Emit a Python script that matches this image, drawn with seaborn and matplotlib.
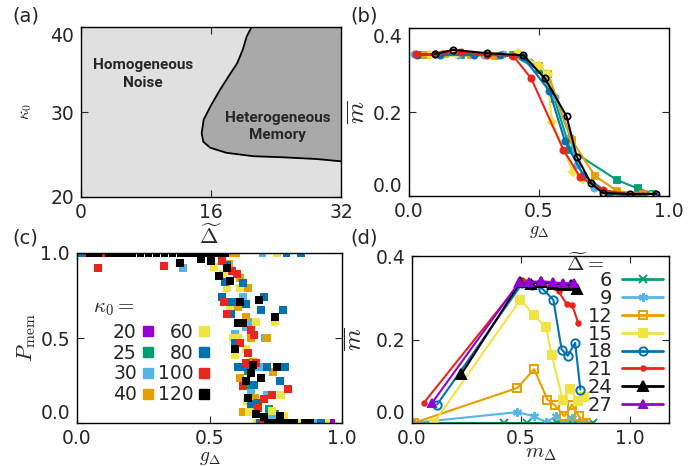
import seaborn as sns
import matplotlib.pyplot as plt
import pandas as pd
from matplotlib.lines import Line2D

# ---------------- datos ----------------
kappas = ['20', '25', '30', '40', '60', '80', '100', '120']
colores_k = ['#9400D3', '#009E73', '#56B4E9', '#E69F00', '#F0E442', '#0072B2', '#E8251F', '#000000']

deltas = ['6', '9', '12', '15', '18', '21', '24', '27']
colores_d = ['#009E73', '#56B4E9', '#E69F00', '#F0E442', '#0072B2', '#E8251F', '#000000', '#9400D3']

# (a) frontera de fase
frontera_delta = [21.0, 20.4, 19.9, 19.2, 18.3, 17.1, 15.9, 15.1, 14.85, 15.05, 15.9, 17.9, 21.2, 24.9, 29.0, 32.0]
frontera_kappa = [40.0, 38.9, 37.3, 35.7, 34.4, 32.6, 30.6, 29.1, 27.5, 26.5, 25.8, 25.2, 24.8, 24.67, 24.47, 24.2]

# (b) m vs g por kappa0
gb20 = [0.95]
mb20 = [0.0]
gb25 = [0.05, 0.2, 0.4, 0.5, 0.56, 0.62, 0.80, 0.88, 0.94]
mb25 = [0.335, 0.335, 0.335, 0.30, 0.23, 0.11, 0.038, 0.018, 0.005]
gb30 = [0.02, 0.1, 0.19, 0.29, 0.36, 0.41, 0.465, 0.53, 0.562, 0.619, 0.645, 0.71, 0.78, 0.86, 0.93]
mb30 = [0.337, 0.337, 0.336, 0.336, 0.337, 0.338, 0.32, 0.275, 0.236, 0.141, 0.074, 0.02, 0.0, 0.0, 0.0]
gb40 = [0.06, 0.14, 0.24, 0.33, 0.42, 0.5, 0.535, 0.626, 0.715, 0.80, 0.9]
mb40 = [0.336, 0.337, 0.335, 0.334, 0.336, 0.31, 0.29, 0.133, 0.048, 0.012, 0.005]
gb60 = [0.08, 0.18, 0.3, 0.42, 0.5, 0.533, 0.549, 0.63, 0.67, 0.8, 0.93]
mb60 = [0.336, 0.338, 0.336, 0.34, 0.31, 0.29, 0.177, 0.058, 0.04, 0.0, 0.0]
gb80 = [0.03, 0.12, 0.25, 0.35, 0.44, 0.54, 0.6, 0.67, 0.77, 0.88]
mb80 = [0.336, 0.336, 0.336, 0.336, 0.33, 0.25, 0.13, 0.05, 0.005, 0.0]
gb100 = [0.026, 0.1, 0.2, 0.3, 0.4, 0.47, 0.594, 0.658, 0.746, 0.9]
mb100 = [0.338, 0.338, 0.342, 0.336, 0.334, 0.28, 0.11, 0.045, 0.014, 0.0]
gb120 = [0.1, 0.17, 0.3, 0.44, 0.523, 0.606, 0.645, 0.7, 0.746, 0.85, 0.95]
mb120 = [0.338, 0.348, 0.34, 0.335, 0.28, 0.19, 0.094, 0.03, 0.007, 0.005, 0.005]

# (c) P_mem vs g por kappa0
gc20 = [0.85, 0.88, 0.91, 0.93, 0.96]
pc20 = [0.0, 0.0, 0.0, 0.0, 0.0]
gc25 = [0.645, 0.657, 0.725, 0.747, 0.83, 0.87, 0.90]
pc25 = [0.306, 0.2, 0.082, 0.053, 0.0, 0.0, 0.0]
gc30 = [0.02, 0.40, 0.626, 0.638, 0.645, 0.596, 0.709, 0.687, 0.657, 0.717, 0.664, 0.736, 0.70, 0.74, 0.90]
pc30 = [1.0, 0.91, 0.741, 0.565, 0.594, 0.524, 0.5, 0.329, 0.176, 0.165, 0.088, 0.035, 1.0, 0.0, 0.0]
gc40 = [0.0, 0.57, 0.60, 0.574, 0.615, 0.645, 0.608, 0.638, 0.657, 0.717, 0.664, 0.74, 0.615, 0.672, 0.626, 0.70, 0.78]
pc40 = [1.0, 1.0, 1.0, 0.935, 0.853, 0.794, 0.682, 0.624, 0.5, 0.5, 0.359, 0.3, 0.265, 0.147, 0.065, 0.0, 0.0]
gc60 = [0.01, 0.755, 0.517, 0.551, 0.566, 0.615, 0.577, 0.675, 0.747, 0.589, 0.608, 0.638, 0.596,
        0.649, 0.736, 0.781, 0.642, 0.77, 0.68, 0.84, 0.94]
pc60 = [1.0, 1.0, 0.918, 0.876, 0.794, 0.794, 0.665, 0.594, 0.594, 0.5, 0.5, 0.435, 0.4,
        0.065, 0.071, 0.041, 0.129, 0.165, 0.0, 0.0, 0.0]
gc80 = [0.02, 0.79, 0.845, 0.566, 0.558, 0.626, 0.547, 0.585, 0.638, 0.706, 0.694, 0.777, 0.581,
        0.596, 0.608, 0.63, 0.717, 0.785, 0.766, 0.668, 0.657, 0.683, 0.69, 0.73, 0.92]
pc80 = [1.0, 1.0, 1.0, 0.93, 0.829, 0.824, 0.741, 0.712, 0.7, 0.741, 0.665, 0.665, 0.641,
        0.471, 0.329, 0.329, 0.329, 0.329, 0.247, 0.224, 0.112, 0.118, 0.0, 0.0, 0.0]
gc100 = [0.04, 0.11, 0.079, 0.328, 0.547, 0.585, 0.604, 0.555, 0.566, 0.657, 0.668, 0.615, 0.645,
         0.638, 0.675, 0.626, 0.796, 0.736, 0.706, 0.683, 0.70, 0.76, 0.80]
pc100 = [1.0, 1.0, 0.91, 0.924, 0.953, 0.894, 0.876, 0.712, 0.641, 0.547, 0.518, 0.471, 0.412,
         0.353, 0.353, 0.218, 0.2, 0.165, 0.141, 0.088, 0.0, 0.0, 0.0]
gc120 = [0.05, 0.08, 0.12, 0.15, 0.18, 0.21, 0.24, 0.27, 0.30, 0.33, 0.36, 0.39, 0.42, 0.45, 0.48,
         0.51, 0.54, 0.56,
         0.388, 0.468, 0.506, 0.536, 0.566, 0.577, 0.615, 0.687, 0.747, 0.608, 0.626, 0.596, 0.664,
         0.657, 0.694, 0.755, 0.638, 0.645, 0.675, 0.706, 0.766,
         0.72, 0.74, 0.76, 0.78, 0.80, 0.82, 0.86, 0.88]
pc120 = [1.0, 1.0, 1.0, 1.0, 1.0, 1.0, 1.0, 1.0, 1.0, 1.0, 1.0, 1.0, 1.0, 1.0, 1.0,
         1.0, 1.0, 1.0,
         0.941, 0.965, 0.953, 0.865, 0.912, 0.835, 0.712, 0.724, 0.624, 0.588, 0.588, 0.435, 0.341,
         0.294, 0.265, 0.329, 0.247, 0.147, 0.053, 0.035, 0.041,
         0.0, 0.0, 0.0, 0.0, 0.0, 0.0, 0.0, 0.0]

# (d) m vs m_Delta por Delta
md6 = [0.0, 0.423, 0.53, 0.665, 0.72, 0.757, 0.83]
mb6 = [0.0, 0.0, 0.0, 0.0, 0.0, 0.0, 0.0]
md9 = [0.0, 0.484, 0.561, 0.615, 0.661, 0.70, 0.735, 0.766, 0.80]
mb9 = [0.0, 0.026, 0.016, 0.002, 0.016, 0.0, 0.012, 0.002, 0.0]
md12 = [0.007, 0.484, 0.561, 0.622, 0.657, 0.70, 0.735, 0.766, 0.80]
mb12 = [0.0, 0.084, 0.129, 0.056, 0.042, 0.016, 0.044, 0.016, 0.0]
md15 = [0.10, 0.497, 0.561, 0.615, 0.641, 0.692, 0.726, 0.761, 0.789]
mb15 = [0.0, 0.295, 0.259, 0.229, 0.164, 0.056, 0.082, 0.053, 0.062]
md18 = [0.115, 0.507, 0.553, 0.60, 0.649, 0.687, 0.715, 0.749, 0.773]
mb18 = [0.044, 0.335, 0.33, 0.321, 0.295, 0.176, 0.161, 0.192, 0.08]
md21 = [0.054, 0.507, 0.60, 0.673, 0.71, 0.735, 0.763]
mb21 = [0.048, 0.343, 0.334, 0.315, 0.285, 0.283, 0.24]
md24 = [0.227, 0.497, 0.546, 0.592, 0.646, 0.692, 0.73, 0.758]
mb24 = [0.117, 0.337, 0.334, 0.337, 0.333, 0.331, 0.33, 0.32]
md27 = [0.092, 0.492, 0.538, 0.592, 0.646, 0.692, 0.746]
mb27 = [0.048, 0.337, 0.337, 0.34, 0.337, 0.335, 0.335]

# ---------------- estilo ----------------
sns.set_style('ticks')
plt.rcParams.update({
    'xtick.direction': 'in', 'ytick.direction': 'in',
    'xtick.top': True, 'ytick.right': True,
    'xtick.major.size': 5, 'ytick.major.size': 5,
    'xtick.major.pad': 4, 'ytick.major.pad': 5,
    'xtick.labelsize': 13.5, 'ytick.labelsize': 13.5,
    'axes.edgecolor': 'black', 'axes.linewidth': 1.0,
    'mathtext.fontset': 'cm',
})
plt.rcParams['font.family'] = ['DejaVu Sans']

fig = plt.figure(figsize=(7, 4.66), dpi=100)
W, H = 700, 466


def caja(x0, y0, x1, y1):
    return [x0 / W, 1 - y1 / H, (x1 - x0) / W, (y1 - y0) / H]


ax_a = fig.add_axes(caja(81, 27, 341, 197))
ax_b = fig.add_axes(caja(409, 28, 669, 196))
ax_c = fig.add_axes(caja(77, 253, 342, 423))
ax_d = fig.add_axes(caja(412, 256, 669, 423))

# ---------------- (a) ----------------
ax_a.set_facecolor('#E0E0E0')
ax_a.fill_betweenx(frontera_kappa, frontera_delta, 32, color='#A9A9A9', lw=0)
sns.lineplot(x=frontera_delta, y=frontera_kappa, ax=ax_a, color='black', lw=1.3,
             sort=False, estimator=None)
ax_a.set_xlim(0, 32)
ax_a.set_ylim(20, 40)
ax_a.set_xticks([0, 16, 32])
ax_a.set_yticks([20, 30, 40])
ax_a.text(7.6, 34.5, 'Homogeneous\nNoise', ha='center', va='center',
          family='Roboto', weight='bold', fontsize=11, linespacing=1.35)
ax_a.text(24.2, 28.3, 'Heterogeneous\nMemory', ha='center', va='center',
          family='Roboto', weight='bold', fontsize=11, linespacing=1.35)
ax_a.set_xlabel(r'$\widetilde{\Delta}$', fontsize=16, labelpad=1)
ax_a.set_ylabel(r'$\kappa_0$', fontsize=12, labelpad=12)
ax_a.get_yticklabels()[-1].set_va('top')

# ---------------- (b) ----------------
series_b = [(gb20, mb20, 'P'), (gb25, mb25, 's'), (gb30, mb30, 'o'), (gb40, mb40, 's'),
            (gb60, mb60, 'D'), (gb80, mb80, 'o'), (gb100, mb100, 'o'), (gb120, mb120, 'o')]
for (gx, my, mk), col in zip(series_b, colores_k):
    abierto = col == '#000000'
    sns.lineplot(x=gx, y=my, ax=ax_b, color=col, lw=1.5, marker=mk, markersize=4.5,
                 markeredgecolor=col, markeredgewidth=1.3,
                 markerfacecolor='none' if abierto else col,
                 sort=False, estimator=None)
ax_b.set_xlim(0, 1)
ax_b.set_ylim(0, 0.4)
ax_b.set_xticks([0, 0.5, 1.0])
ax_b.set_yticks([0, 0.2, 0.4])
ax_b.set_xlabel(r'$g_\Delta$', fontsize=13, labelpad=1)
ax_b.set_ylabel(r'$\overline{m}$', fontsize=18, labelpad=2)
ax_b.get_yticklabels()[0].set_va('bottom')
ax_b.get_yticklabels()[-1].set_va('top')

# ---------------- (c) ----------------
gs = [gc20, gc25, gc30, gc40, gc60, gc80, gc100, gc120]
ps = [pc20, pc25, pc30, pc40, pc60, pc80, pc100, pc120]
filas = []
for k, gx, py in zip(kappas, gs, ps):
    for a, b in zip(gx, py):
        filas.append({'g': a, 'P': b, 'kappa': k})
df_c = pd.DataFrame(filas)
sns.scatterplot(data=df_c, x='g', y='P', hue='kappa', palette=dict(zip(kappas, colores_k)),
                marker='s', s=30, linewidth=0, ax=ax_c, legend=False)
ax_c.set_xlim(0, 1)
ax_c.set_ylim(0, 1)
ax_c.set_xticks([0, 0.5, 1.0])
ax_c.set_yticks([0, 0.5, 1.0])
ax_c.set_xlabel(r'$g_\Delta$', fontsize=14, labelpad=0)
ax_c.set_ylabel(r'$P_{\rm mem}$', fontsize=16, labelpad=2)
ax_c.get_yticklabels()[0].set_va('bottom')

h_c = [Line2D([], [], ls='', marker='s', markersize=6.5, color=c) for c in colores_k]
ax_c.legend(h_c, kappas, ncol=2, markerfirst=False, frameon=False, fontsize=13.5,
            handlelength=0.8, handletextpad=0.2, columnspacing=0.1, labelspacing=0.09,
            borderpad=0, borderaxespad=0, loc='upper left',
            bbox_to_anchor=(113 / W, 1 - 323 / H), bbox_transform=fig.transFigure)
fig.text(93 / W, 1 - 308 / H, r'$\kappa_0=$', fontsize=15, va='center')

# ---------------- (d) ----------------
estilos_d = [('x', 'full'), ((6, 2, 0), 'full'), ('s', 'none'), ('s', 'full'),
             ('o', 'none'), ('.', 'full'), ('^', 'full'), ('^', 'full')]
mds = [md6, md9, md12, md15, md18, md21, md24, md27]
mbs = [mb6, mb9, mb12, mb15, mb18, mb21, mb24, mb27]
tamanos = [5.5, 6.5, 6, 5.5, 6, 6.5, 6.5, 5.5]
for mx, my, (mk, relleno), col, ms in zip(mds, mbs, estilos_d, colores_d, tamanos):
    sns.lineplot(x=mx, y=my, ax=ax_d, color=col, lw=1.5, marker=mk, markersize=ms,
                 markeredgecolor=col, markeredgewidth=1.4,
                 markerfacecolor='none' if relleno == 'none' else col,
                 sort=False, estimator=None)
ax_d.set_xlim(0, 1.18)
ax_d.set_ylim(0, 0.4)
ax_d.set_xticks([0, 0.5, 1.0])
ax_d.set_yticks([0, 0.2, 0.4])
ax_d.set_xlabel(r'$m_\Delta$', fontsize=15, labelpad=-3)
ax_d.set_ylabel(r'$\overline{m}$', fontsize=18, labelpad=6)
ax_d.get_yticklabels()[0].set_va('bottom')

h_d = [Line2D([], [], color=col, lw=2, marker=mk, markersize=ms, markeredgecolor=col,
              markeredgewidth=1.4, markerfacecolor='none' if relleno == 'none' else col)
       for (mk, relleno), col, ms in zip(estilos_d, colores_d, tamanos)]
ax_d.legend(h_d, deltas, markerfirst=False, frameon=False, fontsize=14,
            handlelength=2.1, handletextpad=0.5, labelspacing=-0.06,
            borderpad=0, borderaxespad=0, loc='upper right',
            bbox_to_anchor=(663 / W, 1 - 271 / H), bbox_transform=fig.transFigure)
fig.text(566 / W, 1 - 264 / H, r'$\widetilde{\Delta}=$', fontsize=15, va='center')

# etiquetas de panel
for etiqueta, x, y in [('(a)', 12, 16), ('(b)', 350, 16), ('(c)', 12, 238), ('(d)', 350, 238)]:
    fig.text(x / W, 1 - y / H, etiqueta, fontsize=14, va='center')

fig.savefig('out.png', dpi=100)
